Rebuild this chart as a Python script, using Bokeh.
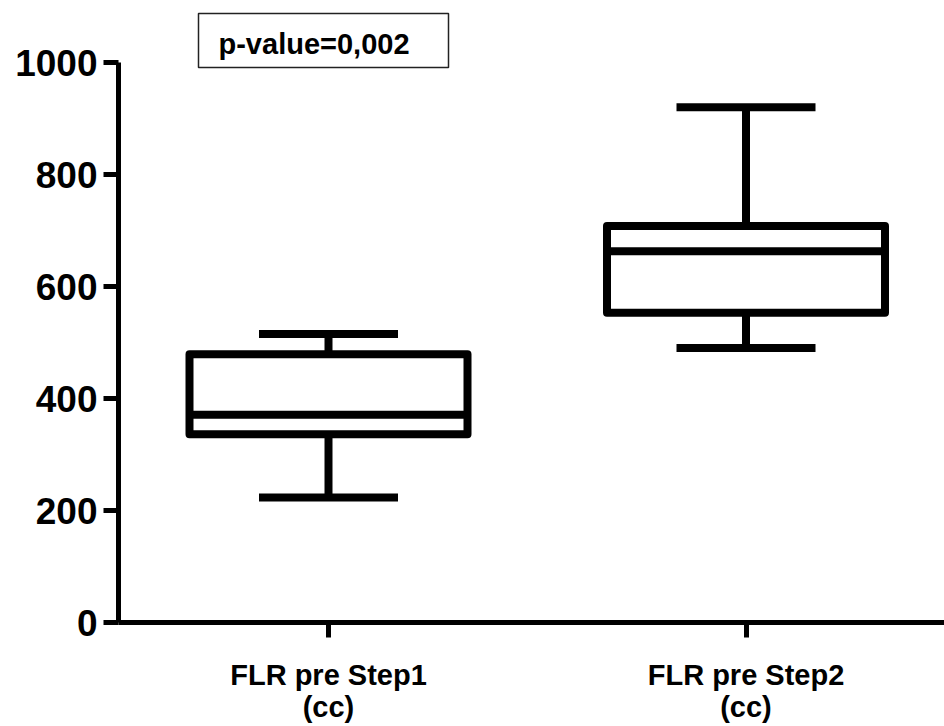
from bokeh.plotting import figure
from bokeh.models import Range1d, FixedTicker, BoxAnnotation, Label
from bokeh.embed import file_html
from bokeh.resources import INLINE

# ---- data ----
categories = ["FLR pre Step1\n(cc)", "FLR pre Step2\n(cc)"]
positions = [1, 2]
mins = [223, 490]
q1 = [336, 553]
medians = [371, 663]
q3 = [479, 708]
maxs = [515, 920]
y_ticks = [0, 200, 400, 600, 800, 1000]
p_value_text = "p-value=0,002"

# ---- layout constants ----
FONT = "Liberation Sans"
W, H = 944, 726
BORDER_L, BORDER_B = 118, 104
frame_w = W - BORDER_L
frame_h = H - BORDER_B
px_x = 417.5          # pixels per category step
px_y = 0.56           # pixels per y unit
x_start = 1 - 210 / px_x
x_end = x_start + frame_w / px_x
y_end = frame_h / px_y

box_w = 278 / px_x
cap_w = 139 / px_x
LW = 8

p = figure(width=W, height=H, output_backend="svg", toolbar_location=None,
           x_range=Range1d(x_start, x_end), y_range=Range1d(0, y_end),
           min_border_left=BORDER_L, min_border_bottom=BORDER_B,
           min_border_top=0, min_border_right=0)
p.outline_line_color = None
p.xgrid.visible = False
p.ygrid.visible = False
p.background_fill_color = "white"
p.border_fill_color = "white"

# whiskers
p.segment(x0=positions, x1=positions, y0=q3, y1=maxs, line_color="black", line_width=LW)
p.segment(x0=positions, x1=positions, y0=mins, y1=q1, line_color="black", line_width=LW)
# caps
p.segment(x0=[x - cap_w / 2 for x in positions], x1=[x + cap_w / 2 for x in positions],
          y0=maxs, y1=maxs, line_color="black", line_width=LW)
p.segment(x0=[x - cap_w / 2 for x in positions], x1=[x + cap_w / 2 for x in positions],
          y0=mins, y1=mins, line_color="black", line_width=LW)
# boxes
p.vbar(x=positions, width=box_w, top=q3, bottom=q1, fill_color="white",
       line_color="black", line_width=LW, line_join="round")
# medians
p.segment(x0=[x - box_w / 2 for x in positions], x1=[x + box_w / 2 for x in positions],
          y0=medians, y1=medians, line_color="black", line_width=LW)

# axes
xa = p.xaxis[0]
xa.ticker = FixedTicker(ticks=positions)
xa.major_label_overrides = {pos: lab for pos, lab in zip(positions, categories)}
xa.minor_tick_line_color = None
xa.major_tick_in = 0
xa.major_tick_out = 15
xa.major_tick_line_width = 5
xa.axis_line_width = 5
xa.axis_line_color = "black"
xa.major_tick_line_color = "black"
xa.major_label_text_font = FONT
xa.major_label_text_font_style = "bold"
xa.major_label_text_font_size = "29px"
xa.major_label_text_color = "black"
xa.major_label_text_line_height = 1.0
xa.major_label_standoff = 21

ya = p.yaxis[0]
ya.ticker = FixedTicker(ticks=y_ticks)
ya.bounds = (y_ticks[0], y_ticks[-1])
ya.minor_tick_line_color = None
ya.major_tick_in = 0
ya.major_tick_out = 15
ya.major_tick_line_width = 5
ya.axis_line_width = 5
ya.axis_line_color = "black"
ya.major_tick_line_color = "black"
ya.major_label_text_font = FONT
ya.major_label_text_font_style = "bold"
ya.major_label_text_font_size = "37px"
ya.major_label_text_color = "black"
ya.major_label_standoff = 6

# p-value box (positions in screen pixels converted to data units)
def sy(s):
    return (frame_h - s) / px_y
def sx(s):
    return 1 + (s - 328) / px_x

box = BoxAnnotation(left=sx(198), right=sx(448), top=sy(13), bottom=sy(67),
                    fill_color="white", fill_alpha=1.0, line_color="#222222",
                    line_alpha=1.0, line_dash="solid", line_width=1.5)
p.add_layout(box)
lab = Label(x=sx(218), y=sy(43), text=p_value_text, text_font=FONT,
            text_font_style="bold", text_font_size="29px", text_color="black",
            text_baseline="middle", text_align="left")
p.add_layout(lab)

open("out.html", "w").write(file_html(p, INLINE))
